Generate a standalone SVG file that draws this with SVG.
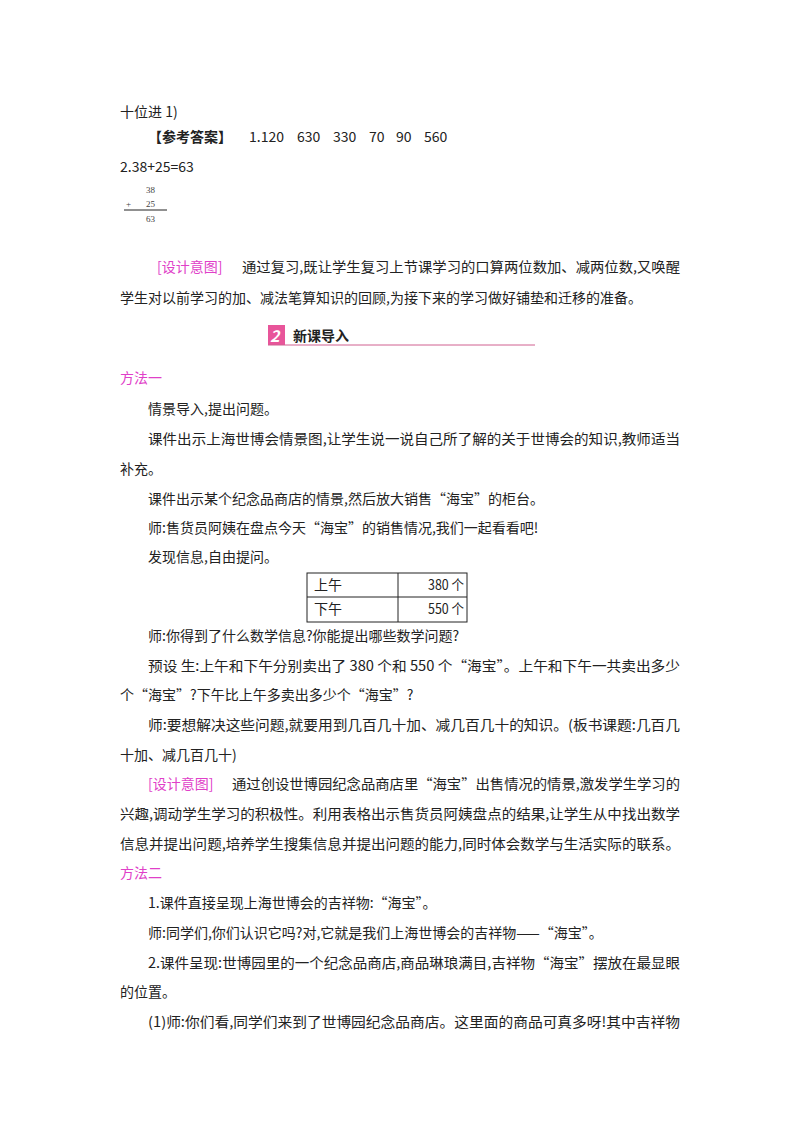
<svg xmlns="http://www.w3.org/2000/svg" width="800" height="1132" viewBox="0 0 800 1132">
<style>
text{font-family:"Noto Sans CJK SC","Liberation Serif",serif;font-size:14px;fill:#222}
.m{fill:#e040c8}
.s{font-family:"Liberation Serif",serif;font-size:9px;fill:#444}
.b{font-weight:bold}
</style>
<rect width="800" height="1132" fill="#fff"/>
<text x="120" y="117">十位进 1)</text>
<text x="148" y="142" class="b">【参考答案】</text>
<text x="249" y="142">1.120</text><text x="297" y="142">630</text><text x="333" y="142">330</text><text x="369" y="142">70</text><text x="396" y="142">90</text><text x="424" y="142">560</text>
<text x="120" y="172">2.38+25=63</text>
<g id="vertical">
<text x="146" y="193" class="s">38</text>
<text x="126" y="207" class="s">+</text>
<text x="146" y="207" class="s">25</text>
<line x1="124" y1="210" x2="167" y2="210" stroke="#222" stroke-width="1"/>
<text x="146" y="222" class="s">63</text>
</g>
<text x="157" y="272" class="m">[设计意图]</text>
<text x="242" y="272" textLength="438" lengthAdjust="spacingAndGlyphs">通过复习,既让学生复习上节课学习的口算两位数加、减两位数,又唤醒</text>
<text x="120" y="303">学生对以前学习的加、减法笔算知识的回顾,为接下来的学习做好铺垫和迁移的准备。</text>
<g id="header">
<rect x="268" y="325" width="17" height="20" fill="#e8559a"/>
<text x="270" y="342" class="b" style="fill:#fff;font-style:italic;font-size:16px">2</text>
<text x="293" y="341" class="b">新课导入</text>
<line x1="268" y1="345" x2="535" y2="345" stroke="#d06090" stroke-width="1"/>
</g>
<text x="120" y="383" class="m">方法一</text>
<text x="148" y="414">情景导入,提出问题。</text>
<text x="148" y="444" textLength="532" lengthAdjust="spacingAndGlyphs">课件出示上海世博会情景图,让学生说一说自己所了解的关于世博会的知识,教师适当</text>
<text x="120" y="474">补充。</text>
<text x="148" y="504">课件出示某个纪念品商店的情景,然后放大销售“海宝”的柜台。</text>
<text x="148" y="533">师:售货员阿姨在盘点今天“海宝”的销售情况,我们一起看看吧!</text>
<text x="148" y="562">发现信息,自由提问。</text>
<g id="table" fill="none" stroke="#222" stroke-width="1">
<rect x="307" y="573" width="160" height="49"/>
<line x1="307" y1="597" x2="467" y2="597"/>
<line x1="398" y1="573" x2="398" y2="622"/>
</g>
<text x="314" y="590">上午</text><text x="428" y="590" textLength="36" lengthAdjust="spacingAndGlyphs">380 个</text>
<text x="314" y="614">下午</text><text x="428" y="614" textLength="36" lengthAdjust="spacingAndGlyphs">550 个</text>
<text x="148" y="641">师:你得到了什么数学信息?你能提出哪些数学问题?</text>
<text x="148" y="671" textLength="532" lengthAdjust="spacingAndGlyphs">预设 生:上午和下午分别卖出了 380 个和 550 个“海宝”。上午和下午一共卖出多少</text>
<text x="120" y="700">个“海宝”?下午比上午多卖出多少个“海宝”?</text>
<text x="148" y="730" textLength="532" lengthAdjust="spacingAndGlyphs">师:要想解决这些问题,就要用到几百几十加、减几百几十的知识。(板书课题:几百几</text>
<text x="120" y="760">十加、减几百几十)</text>
<text x="148" y="789" class="m">[设计意图]</text>
<text x="232" y="789" textLength="448" lengthAdjust="spacingAndGlyphs">通过创设世博园纪念品商店里“海宝”出售情况的情景,激发学生学习的</text>
<text x="120" y="819" textLength="560" lengthAdjust="spacingAndGlyphs">兴趣,调动学生学习的积极性。利用表格出示售货员阿姨盘点的结果,让学生从中找出数学</text>
<text x="120" y="849" textLength="560" lengthAdjust="spacingAndGlyphs">信息并提出问题,培养学生搜集信息并提出问题的能力,同时体会数学与生活实际的联系。</text>
<text x="120" y="878" class="m">方法二</text>
<text x="148" y="908">1.课件直接呈现上海世博会的吉祥物:“海宝”。</text>
<text x="148" y="938">师:同学们,你们认识它吗?对,它就是我们上海世博会的吉祥物——“海宝”。</text>
<text x="148" y="968" textLength="532" lengthAdjust="spacingAndGlyphs">2.课件呈现:世博园里的一个纪念品商店,商品琳琅满目,吉祥物“海宝”摆放在最显眼</text>
<text x="120" y="997">的位置。</text>
<text x="148" y="1027" textLength="532" lengthAdjust="spacingAndGlyphs">(1)师:你们看,同学们来到了世博园纪念品商店。这里面的商品可真多呀!其中吉祥物</text>
</svg>
